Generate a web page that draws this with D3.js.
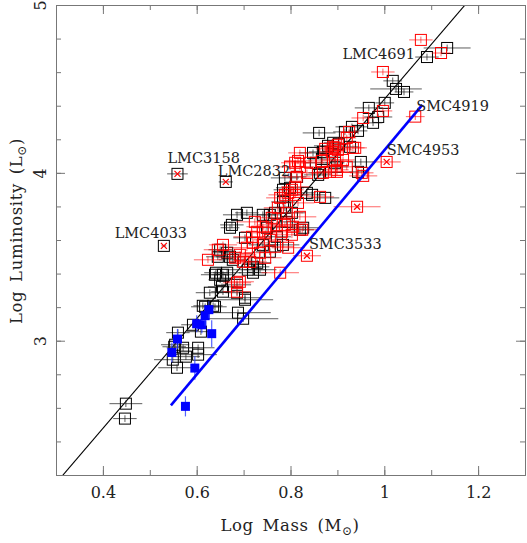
<!DOCTYPE html>
<html><head><meta charset="utf-8">
<script src="https://cdn.jsdelivr.net/npm/d3@7"></script>
<style>body{margin:0;background:#fff}svg{display:block}text{font-family:"DejaVu Serif",serif;fill:#222}</style>
</head><body><svg id="c" width="527" height="543"></svg>
<script>
// ---- data ----
const blackM=[1.134,1.091,1.018,1.025,1.042,1.001,0.967,0.987,0.976,0.931,0.944,0.861,0.891,0.903,0.880,0.927,0.869,0.848,0.867,0.950,0.899,0.859,0.944,0.788,0.846,0.863,0.814,0.895,0.854,0.799,0.784,0.835,0.874,0.784,0.788,0.803,0.741,0.756,0.767,0.686,0.707,0.675,0.671,0.750,0.792,0.820,0.827,0.771,0.703,0.741,0.784,0.756,0.665,0.650,0.645,0.671,0.677,0.720,0.709,0.729,0.735,0.665,0.639,0.650,0.686,0.686,0.703,0.654,0.628,0.656,0.639,0.618,0.703,0.688,0.699,0.609,0.560,0.554,0.552,0.571,0.603,0.603,0.577,0.549,0.558,0.449,0.447,0.592,0.613,0.635,0.641,0.656,0.720,0.916];
const blackL=[4.744,4.690,4.548,4.500,4.482,4.417,4.387,4.333,4.298,4.274,4.250,4.238,4.179,4.173,4.161,4.155,4.125,4.119,4.083,4.065,4.036,3.988,4.006,3.970,3.869,4.000,3.976,4.060,4.060,3.911,3.899,3.881,3.851,3.827,3.792,3.762,3.750,3.750,3.762,3.750,3.762,3.690,3.673,3.673,3.708,3.661,3.673,3.619,3.613,3.571,3.571,3.530,3.524,3.542,3.500,3.500,3.482,3.440,3.423,3.464,3.423,3.405,3.393,3.363,3.333,3.286,3.256,3.321,3.286,3.292,3.202,3.202,3.244,3.167,3.131,3.054,3.048,2.976,2.964,2.958,2.958,2.917,2.905,2.887,2.839,2.625,2.536,3.095,3.208,3.208,3.405,3.393,3.405,4.244];
const blackErr=[0.05,0.025,0.02,0.055,0.02,0.02,0.03,0.03,0.02,0.035,0.02,0.035,0.02,0.02,0.03,0.02,0.03,0.03,0.03,0.03,0.025,0.03,0.02,0.03,0.03,0.025,0.02,0.02,0.025,0.03,0.02,0.02,0.03,0.025,0.02,0.03,0.025,0.025,0.02,0.03,0.025,0.025,0.02,0.03,0.02,0.03,0.035,0.03,0.025,0.03,0.035,0.03,0.03,0.025,0.025,0.03,0.03,0.035,0.04,0.03,0.035,0.03,0.03,0.025,0.03,0.025,0.035,0.03,0.03,0.025,0.025,0.03,0.06,0.07,0.075,0.03,0.025,0.03,0.025,0.035,0.035,0.04,0.03,0.04,0.04,0.035,0.025,0.025,0.02,0.02,0.025,0.025,0.03,0.025];

const redM=[1.078,1.121,0.997,0.997,0.955,0.925,0.920,0.895,0.901,0.933,0.891,0.888,0.874,0.901,0.938,0.895,0.899,0.867,0.912,0.816,0.842,0.899,0.884,0.869,0.820,0.955,0.810,0.803,0.863,0.788,0.795,0.810,0.778,0.816,0.835,0.920,0.952,0.799,0.813,0.820,0.810,0.773,0.792,0.820,0.760,0.724,0.741,0.771,0.788,0.805,0.803,0.782,0.729,0.718,0.707,0.720,0.756,0.767,0.735,0.656,0.692,0.699,0.682,0.686,0.624,0.645,0.692,0.686,0.778,0.825,0.746,0.714,0.795,0.746,1.066];
const redL=[4.792,4.714,4.601,4.369,4.327,4.244,4.208,4.149,4.167,4.149,4.155,4.125,4.143,4.137,4.149,4.077,4.006,4.071,4.077,4.071,4.060,4.018,4.006,4.000,4.036,3.982,3.917,3.899,3.857,3.869,3.881,3.869,3.851,3.821,4.000,4.036,4.000,4.036,3.976,4.119,4.060,3.792,3.762,3.738,3.732,3.708,3.679,3.690,3.690,3.679,3.631,3.649,3.649,3.619,3.554,3.583,3.601,3.560,3.524,3.571,3.512,3.470,3.494,3.345,3.482,3.542,3.351,3.292,3.405,3.661,3.494,3.470,3.554,3.643,4.335];
const redErr=[0.025,0.02,0.025,0.02,0.025,0.02,0.02,0.03,0.025,0.03,0.02,0.025,0.02,0.03,0.02,0.03,0.025,0.03,0.025,0.03,0.03,0.025,0.03,0.025,0.03,0.03,0.03,0.025,0.03,0.035,0.03,0.03,0.03,0.035,0.03,0.03,0.025,0.03,0.03,0.025,0.03,0.03,0.035,0.035,0.035,0.04,0.035,0.04,0.035,0.03,0.035,0.04,0.035,0.04,0.04,0.035,0.035,0.04,0.035,0.03,0.035,0.03,0.035,0.03,0.03,0.03,0.03,0.03,0.04,0.035,0.035,0.035,0.035,0.035,0.02];

const blueM=[0.576,0.596,0.547,0.559,0.600,0.611,0.632,0.618,0.626];
const blueL=[2.609,2.837,2.930,3.010,3.101,3.095,3.042,3.149,3.185];
const blueErr=[0.06,0.07,0.06,0.06,0.05,0.05,0.08,0.06,0.05];

// flagged stars (crossed symbols)
const flagName=["LMC3158","LMC2832","LMC4033","SMC3533","SMC4953",""];
const flagM=[0.559,0.662,0.530,0.835,1.005,0.942];
const flagL=[3.994,3.946,3.565,3.506,4.065,3.798];
const flagErr=[0.022,0.015,0.005,0.03,0.03,0.05];
const flagType=["black","black","black","red","red","red"];

// other labelled stars
const labName=["LMC4691","SMC4919"];
const labM=[1.091,1.066];
const labL=[4.690,4.335];

// fits
const fitSlope=3.267, fitIntercept=1.171;
const smcLineM=[0.545,1.081], smcLineL=[2.615,4.405];

const xTicks=[0.4,0.6,0.8,1.0,1.2];
const xTickLabels=["0.4","0.6","0.8","1","1.2"];
const yTicks=[3,4,5];
const yTickLabels=["3","4","5"];

// ---- drawing ----
const svg=d3.select("#c");
const L=56,R=525,T=5,B=475;
const x=d3.scaleLinear().domain([0.3,1.3]).range([L,R]);
const y=d3.scaleLinear().domain([2.2,5]).range([B,T]);

svg.append("clipPath").attr("id","clip").append("rect").attr("x",L).attr("y",T).attr("width",R-L).attr("height",B-T);
const g=svg.append("g").attr("clip-path","url(#clip)");

g.append("line").attr("x1",x(0.3)).attr("y1",y(fitSlope*0.3+fitIntercept))
 .attr("x2",x(1.3)).attr("y2",y(fitSlope*1.3+fitIntercept)).attr("stroke","#000").attr("stroke-width",1.1);

const S=11;
function drawSet(M,Lv,E,col,ecol,lerr){
  const gg=g.append("g");
  M.forEach((m,i)=>{
    const cx=x(m), cy=y(Lv[i]);
    gg.append("line").attr("x1",x(m-E[i])).attr("x2",x(m+E[i])).attr("y1",cy).attr("y2",cy).attr("stroke",ecol).attr("stroke-width",1);
    gg.append("line").attr("x1",cx).attr("x2",cx).attr("y1",y(Lv[i]-lerr)).attr("y2",y(Lv[i]+lerr)).attr("stroke",ecol).attr("stroke-width",1);
    gg.append("rect").attr("x",cx-S/2).attr("y",cy-S/2).attr("width",S).attr("height",S).attr("fill","none").attr("stroke",col).attr("stroke-width",1);
  });
}
drawSet(blackM,blackL,blackErr,"#000","rgba(40,40,40,0.75)",0.02);
drawSet(redM,redL,redErr,"#ff0000","rgba(255,0,0,0.6)",0.02);

flagM.forEach((m,i)=>{
  const cx=x(m), cy=y(flagL[i]);
  const col=flagType[i]==="black"?"#000":"#ff0000";
  const ecol=flagType[i]==="black"?"rgba(40,40,40,0.75)":"rgba(255,0,0,0.6)";
  g.append("line").attr("x1",x(m-flagErr[i])).attr("x2",x(m+flagErr[i])).attr("y1",cy).attr("y2",cy).attr("stroke",ecol);
  g.append("rect").attr("x",cx-S/2).attr("y",cy-S/2).attr("width",S).attr("height",S).attr("fill","none").attr("stroke",col);
  g.append("path").attr("d",`M${cx-3},${cy-3}L${cx+3},${cy+3}M${cx-3},${cy+3}L${cx+3},${cy-3}`).attr("stroke","#ff0000").attr("stroke-width",1.2);
});

const bg=g.append("g");
blueM.forEach((m,i)=>{
  const cx=x(m), cy=y(blueL[i]);
  bg.append("line").attr("x1",cx).attr("x2",cx).attr("y1",y(blueL[i]-blueErr[i])).attr("y2",y(blueL[i]+blueErr[i])).attr("stroke","rgba(40,60,255,0.8)").attr("stroke-width",1.2);
  bg.append("line").attr("x1",x(m-0.006)).attr("x2",x(m+0.006)).attr("y1",cy).attr("y2",cy).attr("stroke","rgba(40,60,255,0.8)");
  bg.append("rect").attr("x",cx-4.5).attr("y",cy-4.5).attr("width",9).attr("height",9).attr("fill","#0000ff");
});

g.append("line").attr("x1",x(smcLineM[0])).attr("y1",y(smcLineL[0])).attr("x2",x(smcLineM[1])).attr("y2",y(smcLineL[1]))
 .attr("stroke","#0000ff").attr("stroke-width",2.6);

const fs=14.5;
const flagOff=[[-10,-11,"start"],[-8,-6,"start"],[-13,-8,"middle"],[2,-7,"start"],[0,-7,"start"]];
flagName.forEach((n,i)=>{ if(!n) return;
  svg.append("text").attr("x",x(flagM[i])+flagOff[i][0]).attr("y",y(flagL[i])+flagOff[i][1]).attr("text-anchor",flagOff[i][2]).attr("font-size",fs).text(n);
});
const labOff=[[-12,2,"end"],[1,-6,"start"]];
labName.forEach((n,i)=>{
  svg.append("text").attr("x",x(labM[i])+labOff[i][0]).attr("y",y(labL[i])+labOff[i][1]).attr("text-anchor",labOff[i][2]).attr("font-size",fs).text(n);
});

const axCol="#777";
function styleAx(sel){sel.selectAll("path,line").attr("stroke",axCol);}
const xMinor=d3.range(0.3,1.31,0.1).map(v=>+v.toFixed(2));
const yMinor=d3.range(2.2,5.01,0.2).map(v=>+v.toFixed(2));
svg.append("g").attr("transform",`translate(0,${B})`).call(d3.axisBottom(x).tickValues(xMinor).tickSize(-5).tickSizeOuter(0).tickFormat("")).call(styleAx);
const xb=svg.append("g").attr("transform",`translate(0,${B})`).call(d3.axisBottom(x).tickValues(xTicks).tickSize(-9).tickSizeOuter(0).tickFormat((d,i)=>xTickLabels[i])).call(styleAx);
xb.selectAll("text").attr("y",23).attr("dy",0).attr("font-size",16).attr("font-family","DejaVu Serif").attr("fill","#222");
svg.append("g").attr("transform",`translate(0,${T})`).call(d3.axisTop(x).tickValues(xMinor).tickSize(-5).tickSizeOuter(0).tickFormat("")).call(styleAx);
svg.append("g").attr("transform",`translate(0,${T})`).call(d3.axisTop(x).tickValues(xTicks).tickSize(-9).tickSizeOuter(0).tickFormat("")).call(styleAx);
svg.append("g").attr("transform",`translate(${L},0)`).call(d3.axisLeft(y).tickValues(yMinor).tickSize(-5).tickSizeOuter(0).tickFormat("")).call(styleAx);
const yl=svg.append("g").attr("transform",`translate(${L},0)`).call(d3.axisLeft(y).tickValues(yTicks).tickSize(-9).tickSizeOuter(0).tickFormat((d,i)=>yTickLabels[i])).call(styleAx);
yl.selectAll("text").attr("x",0).attr("dy",0).attr("text-anchor","middle").attr("transform","translate(-10,0) rotate(-90)").attr("font-size",16).attr("font-family","DejaVu Serif").attr("fill","#222");
svg.append("g").attr("transform",`translate(${R},0)`).call(d3.axisRight(y).tickValues(yMinor).tickSize(-5).tickSizeOuter(0).tickFormat("")).call(styleAx);
svg.append("g").attr("transform",`translate(${R},0)`).call(d3.axisRight(y).tickValues(yTicks).tickSize(-9).tickSizeOuter(0).tickFormat("")).call(styleAx);

const xt=svg.append("text").attr("x",290).attr("y",531).attr("text-anchor","middle").attr("font-size",16.5).attr("letter-spacing",0.6).attr("word-spacing",3);
xt.append("tspan").text("Log Mass (M");
xt.append("tspan").attr("font-size",12).attr("dy",4).text("⊙");
xt.append("tspan").attr("dy",-4).text(")");
const yt=svg.append("text").attr("transform","translate(22,231) rotate(-90)").attr("text-anchor","middle").attr("font-size",16.5).attr("letter-spacing",0.6).attr("word-spacing",3);
yt.append("tspan").text("Log Luminosity (L");
yt.append("tspan").attr("font-size",12).attr("dy",4).text("⊙");
yt.append("tspan").attr("dy",-4).text(")");
</script></body></html>
